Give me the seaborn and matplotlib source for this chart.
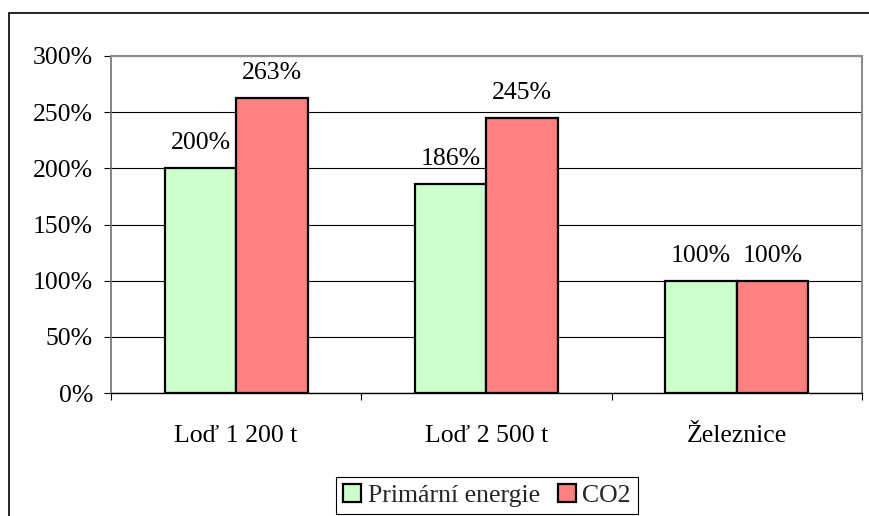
import matplotlib
matplotlib.use("Agg")
import matplotlib.pyplot as plt
import seaborn as sns
import pandas as pd
from matplotlib.patches import Rectangle
from matplotlib.ticker import FixedLocator

categories = ["Loď 1 200 t", "Loď 2 500 t", "Železnice"]
primarni_energie = [200, 186, 100]
co2 = [263, 245, 100]
series_names = ["Primární energie", "CO2"]
y_ticks = [0, 50, 100, 150, 200, 250, 300]
y_tick_labels = ["0%", "50%", "100%", "150%", "200%", "250%", "300%"]

df = pd.DataFrame({
    "kategorie": categories * 2,
    "rada": [series_names[0]] * 3 + [series_names[1]] * 3,
    "hodnota": primarni_energie + co2,
})

FS = 18.5

sns.set_theme(style="white")
plt.rcParams["font.family"] = ["Liberation Serif", "DejaVu Serif"]
plt.rcParams["font.size"] = FS

fig = plt.figure(figsize=(8.7, 5.16), dpi=100)
ax = fig.add_axes([111 / 870, 1 - 393 / 516, (862 - 111) / 870, (393 - 56) / 516])

palette = {series_names[0]: "#CCFFCC", series_names[1]: "#FF8080"}
sns.barplot(data=df, x="kategorie", y="hodnota", hue="rada", order=categories,
            hue_order=series_names, palette=palette, width=0.57, dodge=True,
            edgecolor="black", linewidth=1.6, saturation=1, ax=ax, zorder=3)

ax.set_xlim(-0.5, 2.5)
ax.set_ylim(0, 300)
ax.set_yticks(y_ticks)
ax.set_yticklabels(y_tick_labels)
ax.set_xlabel("")
ax.set_ylabel("")
ax.yaxis.grid(True, color="black", linewidth=0.8, zorder=0)
ax.set_axisbelow(True)

ax.tick_params(axis="y", which="major", left=True, length=5, width=0.8,
               color="black", pad=8, labelsize=FS, labelcolor="black")
ax.tick_params(axis="x", which="major", bottom=False, length=0, pad=23,
               labelsize=FS, labelcolor="black")
ax.xaxis.set_minor_locator(FixedLocator([-0.5, 0.5, 1.5, 2.5]))
ax.tick_params(axis="x", which="minor", bottom=True, length=5, width=0.8,
               color="black", direction="out")

for side in ("top", "right"):
    ax.spines[side].set_color("#8c8c8c")
    ax.spines[side].set_linewidth(1.5)
ax.spines["left"].set_color("#707070")
ax.spines["left"].set_linewidth(1.2)
ax.spines["bottom"].set_color("black")
ax.spines["bottom"].set_linewidth(1.0)

for container in ax.containers:
    ax.bar_label(container, labels=[f"{v:.0f}%" for v in container.datavalues],
                 padding=10, fontsize=FS, color="black")

if ax.get_legend() is not None:
    ax.get_legend().remove()
handles = [Rectangle((0, 0), 1, 1, facecolor=palette[n], edgecolor="black",
                     linewidth=1.6) for n in series_names]
fig.legend(handles, series_names, loc="center",
           bbox_to_anchor=(487 / 870, 1 - 495.5 / 516), ncol=2,
           frameon=True, fancybox=False, edgecolor="black", framealpha=1,
           fontsize=FS, handlelength=0.7, handleheight=0.7,
           handletextpad=0.25, columnspacing=0.7, borderpad=0.28,
           borderaxespad=0)
fig.legends[0].get_frame().set_linewidth(0.8)

# outer chart frame
fig.patches.append(Rectangle((9 / 870, -0.1), 1.2, 1 - 13 / 516 + 0.1,
                             transform=fig.transFigure, fill=False,
                             edgecolor="black", linewidth=1.2))

fig.savefig("out.png", dpi=100, facecolor="white")
